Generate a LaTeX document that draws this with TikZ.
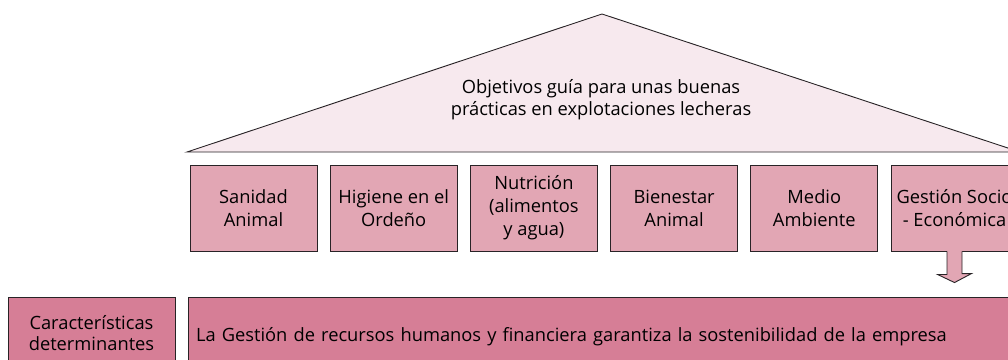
\documentclass[tikz,border=0pt]{standalone}
\usepackage{fontspec}
\setmainfont{Open Sans}
\usetikzlibrary{positioning}
\definecolor{roof}{RGB}{247,233,238}
\definecolor{pillar}{RGB}{226,166,180}
\definecolor{base}{RGB}{214,126,150}
\definecolor{edge}{RGB}{40,35,38}

\begin{document}
\begin{tikzpicture}[x=1pt,y=-1pt,node distance=140.2pt,
			line width=0.9pt,pillar node/.style={rectangle,fill=pillar,draw=edge,
				font=\fontsize{18.3}{23}\selectfont,minimum width=127pt,
				minimum height=86pt,inner sep=0pt,align=center},
			base node/.style={rectangle,fill=base,draw=edge,
				font=\fontsize{18.3}{21.5}\selectfont,minimum height=72pt,
				inner sep=0pt,align=center}]
			
			\useasboundingbox (0,0) rectangle (1008,359);
			
			% roof
			\coordinate (top) at (602,14);
			\coordinate (eaveL) at (187,152);
			\coordinate (eaveR) at (1020,152);
			\filldraw[fill=roof,draw=edge] (eaveL) -- (top) -- (eaveR) -- cycle;
			\node (goal) [font=\fontsize{18.3}{22}\selectfont,align=center] at (601,100)
			{Objetivos guía para unas buenas\\prácticas en explotaciones lecheras};
			
			% pillars
			\node[pillar node] (A) at (253.5,208) {Sanidad\\Animal};
			\node[pillar node] (B) [right of=A] {Higiene en el\\Ordeño};
			\node[pillar node] (C) [right of=B] {Nutrición\\(alimentos\\y agua)};
			\node[pillar node] (D) [right of=C] {Bienestar\\Animal};
			\node[pillar node] (E) [right of=D] {Medio\\Ambiente};
			\node[pillar node] (F) [right of=E] {Gestión Socio\\- Económica};
			
			% base
			\node[base node,minimum width=167pt] (G) at (91.5,333) {Características\\determinantes};
			\node[base node,minimum width=832pt,minimum height=80pt,text width=816pt,align=left] (H) at (604,337)
			{La Gestión de recursos humanos y financiera garantiza la sostenibilidad de la empresa};
			
			% arrow
			\coordinate (tip) at ([yshift=14pt]F.south |- H.north);
			\fill[pillar] ([xshift=-7.5pt,yshift=1pt]F.south) -- ++(0,24) -- ++(-9.5,0) -- (tip)
			-- ++(17,-9) -- ++(-9.5,0) -- ([xshift=7.5pt,yshift=1pt]F.south) -- cycle;
			\draw[edge] ([xshift=-7.5pt]F.south) -- ++(0,23) -- ++(-9.5,0) -- (tip)
			-- ++(17,-9) -- ++(-9.5,0) -- ([xshift=7.5pt]F.south);
		\end{tikzpicture}
\end{document}
